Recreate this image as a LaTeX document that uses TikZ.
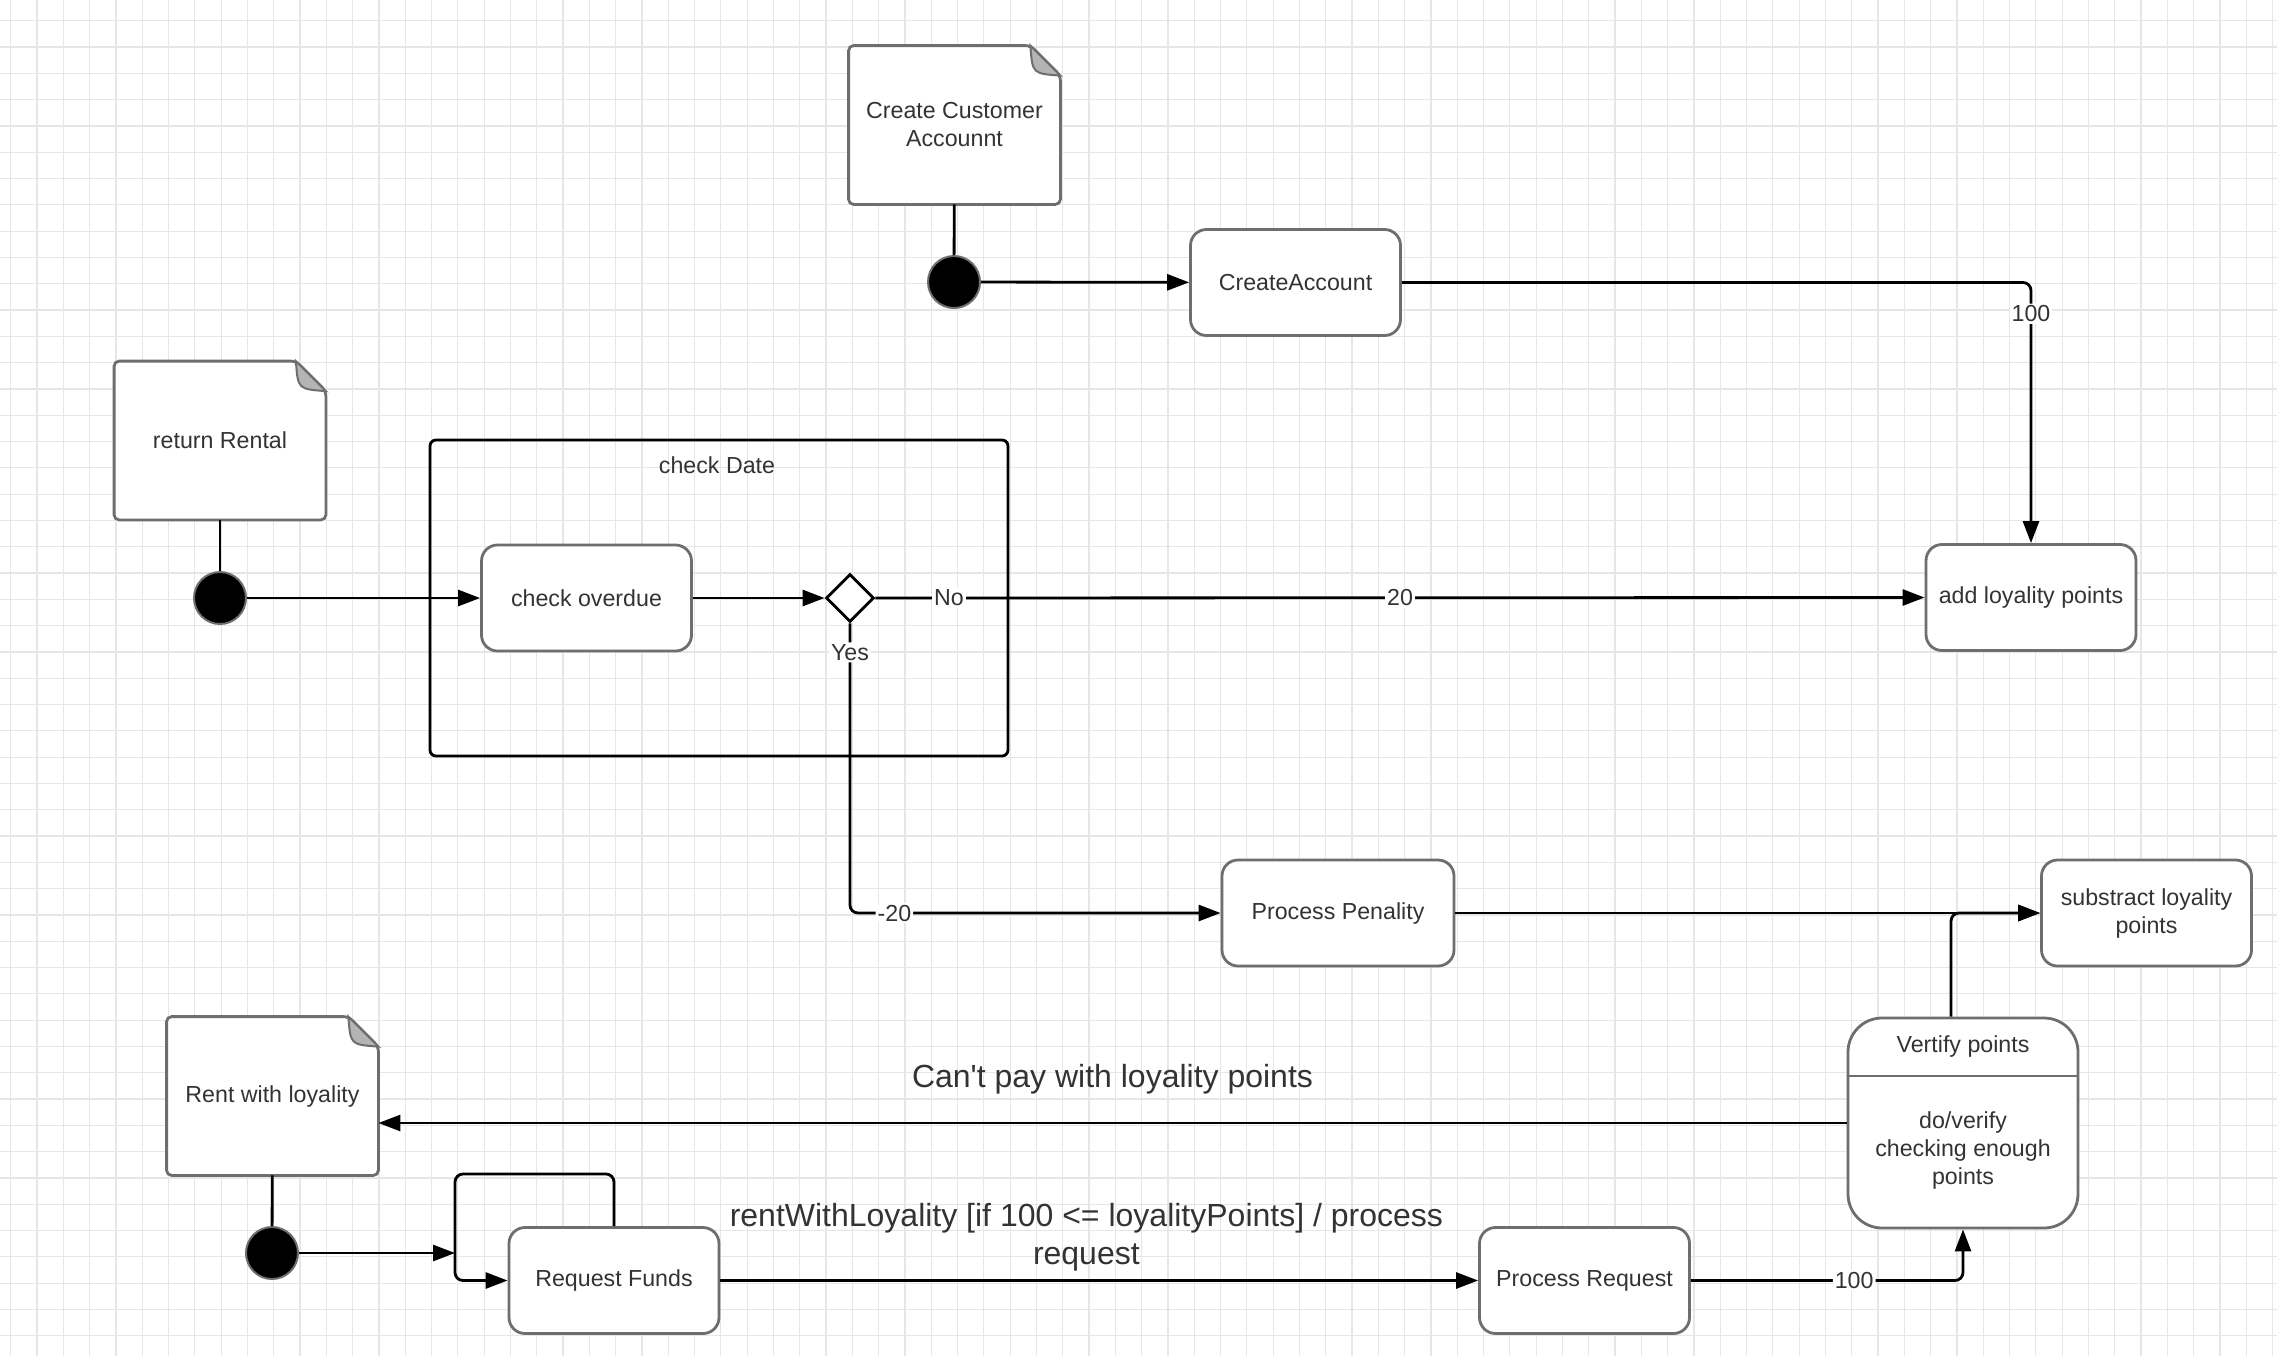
\documentclass[tikz,border=0pt]{standalone}
\usepackage{fontspec}
\setmainfont{Liberation Sans}
\usetikzlibrary{shapes.geometric, arrows.meta, backgrounds}
\definecolor{boxgray}{HTML}{6E6E6E}
\definecolor{txtgray}{HTML}{333333}
\definecolor{gridgray}{HTML}{E6E6E6}
\definecolor{foldgray}{HTML}{B4B4B4}

\begin{document}
\begin{tikzpicture}[x=0.5pt, y=-0.5pt,
  every node/.style={font=\fontsize{11.6}{14}\selectfont, text=txtgray, align=center},
  state/.style={draw=boxgray, line width=1.4pt, fill=white, rounded corners=8pt, minimum width=105pt, minimum height=53pt, inner sep=2pt},
  note/.style={minimum width=105.5pt, minimum height=79pt, inner sep=0pt},
  notebox/.style={draw=boxgray, line width=1.4pt, fill=white, rounded corners=2.5pt},
  init/.style={circle, fill=black, draw=boxgray, line width=1pt, minimum size=26pt, inner sep=0pt},
  flow/.style={line width=1.4pt, -{Triangle[length=11pt, width=8pt]}},
  link/.style={line width=1.4pt},
  lbl/.style={fill=white, inner sep=1pt},
  biglbl/.style={font=\fontsize{16}{19}\selectfont}]

\useasboundingbox (0,0) rectangle (2277,1356);

% paper grid
\begin{scope}[on background layer]
\fill[white] (0,0) rectangle (2277,1356);
\foreach \i in {0,...,86} \draw[gridgray, line width=0.6pt] ({10.7+26.3*\i},0) -- ({10.7+26.3*\i},1356);
\foreach \j in {0,...,50} \draw[gridgray, line width=0.6pt] (0,{20.7+26.3*\j}) -- (2277,{20.7+26.3*\j});
\end{scope}

% notes and initial states
\node[note] (cca) at (954.5,125) {Create Customer\\Accounnt};
\node[note] (ret) at (220,440.5) {return Rental};
\node[note] (rwl) at (272.5,1096) {Rent with loyality};
\node[init] (init1) at (954,282) {};
\node[init] (init2) at (220,598) {};
\node[init] (init3) at (272,1253) {};

\begin{scope}[on background layer]
\foreach \n in {cca, ret, rwl} {
  \draw[notebox] (\n.south west) -- (\n.north west) -- ([xshift=-15pt]\n.north east) -- ([yshift=-15pt]\n.north east) -- (\n.south east) -- cycle;
  \filldraw[fill=foldgray, draw=boxgray, line width=1pt] ([xshift=-15pt]\n.north east) .. controls ([xshift=-14pt, yshift=-14pt]\n.north east) .. ([yshift=-15pt]\n.north east) -- cycle;
}
\end{scope}

% composite state
\node[draw, line width=1.4pt, rounded corners=3pt, minimum width=289pt, minimum height=158pt] (date) at (719,598) {};
\node (datelbl) at (717,465) {check Date};

\node[state] (create) at (1295.5,282.5) {CreateAccount};
\node[state] (overdue) at (586.5,598) {check overdue};
\node[diamond, draw, line width=1.4pt, fill=white, minimum width=24pt, minimum height=24pt, inner sep=0pt] (dia) at (850,598) {};
\node[state] (addpts) at (2031,597.5) {add loyality points};
\node[state, minimum width=116pt] (penalty) at (1338,913) {Process Penality};
\node[state] (subpts) at (2146.5,913) {substract loyality\\points};
\node[state] (funds) at (614,1280.5) {Request Funds};
\node[state] (procreq) at (1584.5,1280.5) {Process Request};

\node[state, minimum width=115pt, minimum height=105pt, rounded corners=17pt] (verify) at (1963,1123) {};
\coordinate (divy) at (0,1076);
\draw[boxgray, line width=1.4pt] (verify.west |- divy) -- (verify.east |- divy);
\node (verifyhead) at (1963,1046) {Vertify points};
\node (verifybody) at (1963,1150) {do/verify\\checking enough\\points};

% transitions
\draw[link] (cca) -- (init1);
\draw[flow] (init1) -- (create);
\draw[flow, rounded corners=4pt] (create.east) -| node[lbl, pos=0.56] {100} (addpts.north);

\draw[link] (ret) -- (init2);
\draw[flow] (init2) -- (overdue);
\draw[flow] (overdue) -- (dia);
\draw[flow] (dia.east) -- node[lbl, pos=0.07] {No} node[lbl, pos=0.5] {20} (addpts.west);
\draw[flow, rounded corners=4pt] (dia.south) |- node[lbl, pos=0.05] {Yes} node[lbl, pos=0.56] {-20} (penalty.west);

\draw[flow] (penalty) -- (subpts);
\draw[flow, rounded corners=4pt] ([xshift=-6pt]verify.north) |- (subpts.west);
\draw[flow] (verify.west) -- (verify.west -| rwl.east) node[biglbl, midway, yshift=22pt] {Can\textquotesingle t pay with loyality points};

\draw[link] (rwl) -- (init3);
\coordinate (loopin) at (455,1253);
\coordinate (looptop) at (455,1174);
\draw[flow] (init3) -- (loopin);
\draw[flow, rounded corners=4pt] (funds.north) |- (looptop) |- (funds.west);
\draw[flow] (funds) -- node[biglbl, pos=0.483, yshift=21.5pt] {rentWithLoyality [if 100 <= loyalityPoints] / process\\request} (procreq);
\draw[flow, rounded corners=4pt] (procreq.east) -| node[lbl, pos=0.3] {100} (verify.south);
\end{tikzpicture}
\end{document}
